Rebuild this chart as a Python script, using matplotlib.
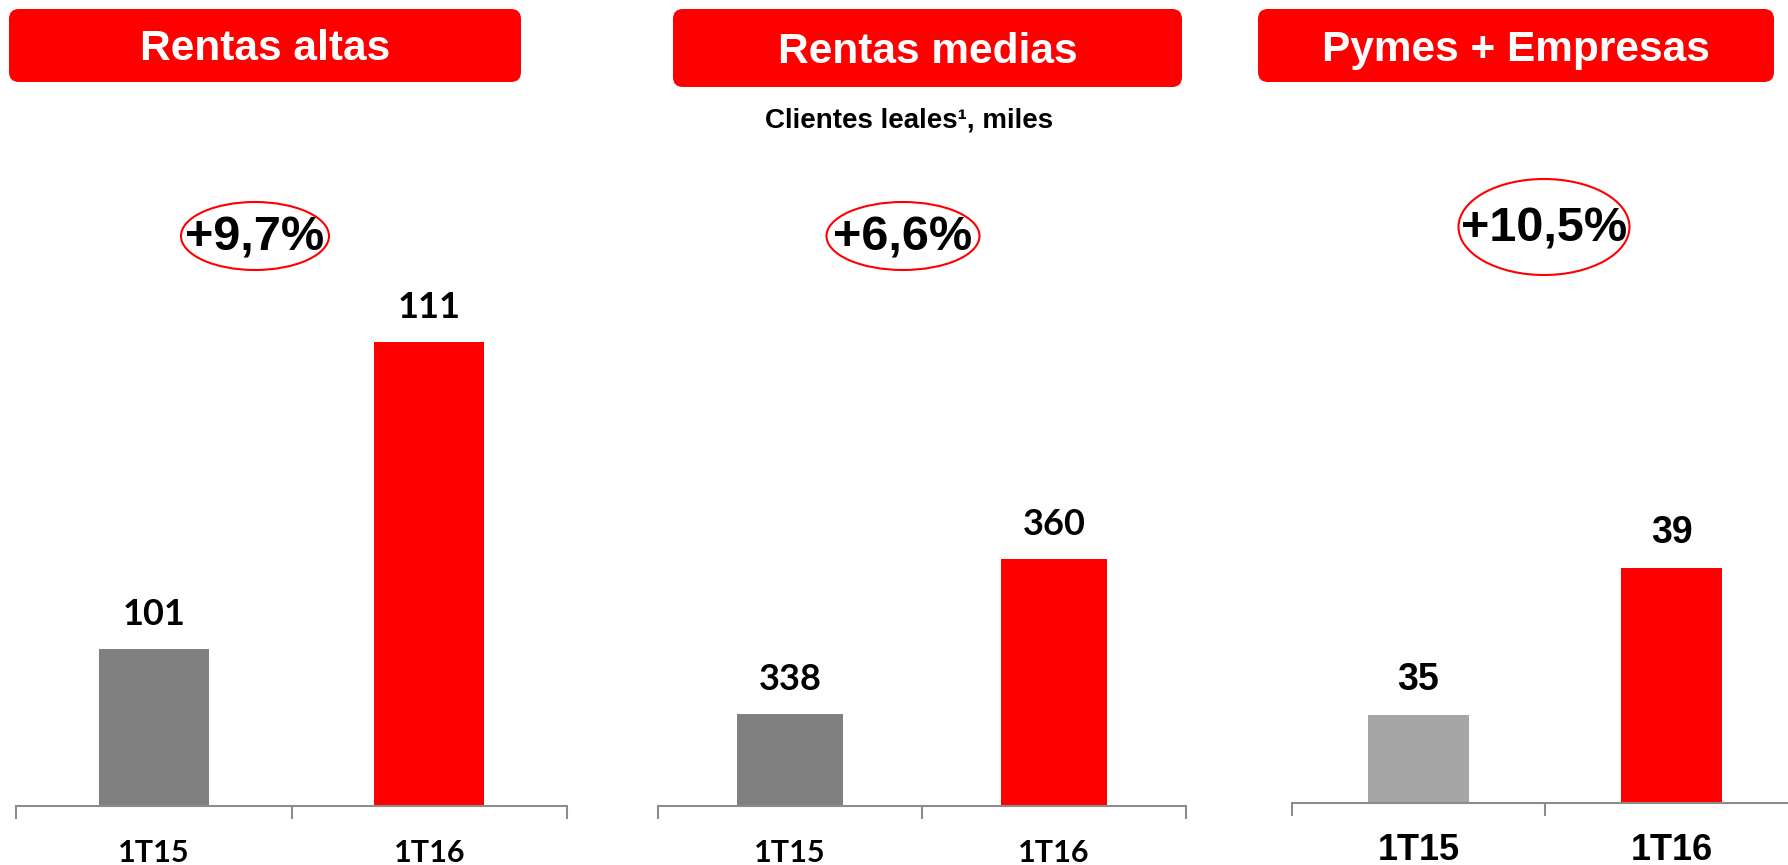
import matplotlib
matplotlib.use("Agg")
import matplotlib.pyplot as plt
from matplotlib.patches import FancyBboxPatch, Ellipse

# ---------------- data ----------------
categories = ["1T15", "1T16"]
panel_titles = ["Rentas altas", "Rentas medias", "Pymes + Empresas"]
values_rentas_altas = [101, 111]
values_rentas_medias = [338, 360]
values_pymes_empresas = [35, 39]
growth_labels = ["+9,7%", "+6,6%", "+10,5%"]
subtitle = "Clientes leales¹, miles"

panel_values = [values_rentas_altas, values_rentas_medias, values_pymes_empresas]

# ---------------- layout / style ----------------
W, H = 1788, 865
fig = plt.figure(figsize=(W / 100, H / 100), dpi=100)
fig.patch.set_facecolor("white")

RED = "#FF0000"
AXIS_GREY = "#8C8C8C"
bar_colors = [["#808080", RED], ["#808080", RED], ["#A6A6A6", RED]]
value_fonts = ["Lato", "Lato", "Liberation Sans"]
value_sizes = [26, 26, 27]
tick_sizes = [22, 22, 26]

# pixel layout: (axis left, axis right, axis y, ymin, px per unit)
axes_px = [
    (16, 567, 806, 95.9, 30.7),
    (658, 1186, 806, 324.9, 7.04),
    (1292, 1798, 803, 32.6, 36.7),
]
top_px = 120

header_boxes = [(9, 9, 521, 82), (673, 9, 1182, 87), (1258, 9, 1774, 82)]
ellipses = [(255, 236, 148, 68), (903, 236, 153, 68), (1544, 227, 171, 96)]

# overlay axes in pixel coordinates for decorations
ov = fig.add_axes([0, 0, 1, 1], zorder=0)
ov.set_xlim(0, W)
ov.set_ylim(H, 0)
ov.axis("off")
ov.patch.set_alpha(0)

for (x0, y0, x1, y1), title in zip(header_boxes, panel_titles):
    box = FancyBboxPatch((x0 + 10, y0 + 10), (x1 - x0) - 20, (y1 - y0) - 20,
                         boxstyle="round,pad=10", facecolor=RED, edgecolor="none")
    ov.add_patch(box)
    ov.text((x0 + x1) / 2, (y0 + y1) / 2 + 4, title, ha="center", va="center",
            color="white", fontsize=30.5, fontweight="bold", family="Liberation Sans")

ov.text(909, 121, subtitle, ha="center", va="center", fontsize=20,
        fontweight="bold", family="Liberation Sans", color="black")

for (cx, cy, ew, eh), lab in zip(ellipses, growth_labels):
    ov.add_patch(Ellipse((cx, cy), ew, eh, facecolor="none", edgecolor=RED, lw=1.5))
    ov.text(cx, cy + 2, lab, ha="center", va="center", fontsize=35,
            fontweight="bold", family="Liberation Sans", color="black")

# bar panels
for p, vals in enumerate(panel_values):
    xl, xr, ay, ymin, ppu = axes_px[p]
    ax = fig.add_axes([xl / W, 1 - ay / H, (xr - xl) / W, (ay - top_px) / H], zorder=1)
    ax.patch.set_alpha(0)
    x = list(range(len(categories)))
    ax.bar(x, vals, width=0.4, color=bar_colors[p], bottom=0)
    ax.set_xlim(-0.5, len(categories) - 0.5)
    ax.set_ylim(ymin, ymin + (ay - top_px) / ppu)
    for s in ["top", "right", "left"]:
        ax.spines[s].set_visible(False)
    ax.spines["bottom"].set_color(AXIS_GREY)
    ax.spines["bottom"].set_linewidth(1.5)
    ax.set_yticks([])
    ax.set_xticks([i - 0.5 for i in range(len(categories) + 1)])
    ax.set_xticklabels([])
    ax.tick_params(axis="x", direction="out", length=9, width=1.5, color=AXIS_GREY)
    for i, (c, v) in enumerate(zip(categories, vals)):
        ax.annotate(str(v), xy=(i, v), xytext=(0, 25), textcoords="offset points",
                    ha="center", va="center", fontsize=value_sizes[p],
                    fontweight="bold", family=value_fonts[p], color="black")
        ax.annotate(c, xy=(i, 0), xycoords=("data", "axes fraction"),
                    xytext=(0, -34), textcoords="offset points",
                    ha="center", va="center", fontsize=tick_sizes[p],
                    fontweight="bold", family=value_fonts[p], color="black",
                    annotation_clip=False)

fig.savefig("out.png", dpi=100, facecolor="white")
